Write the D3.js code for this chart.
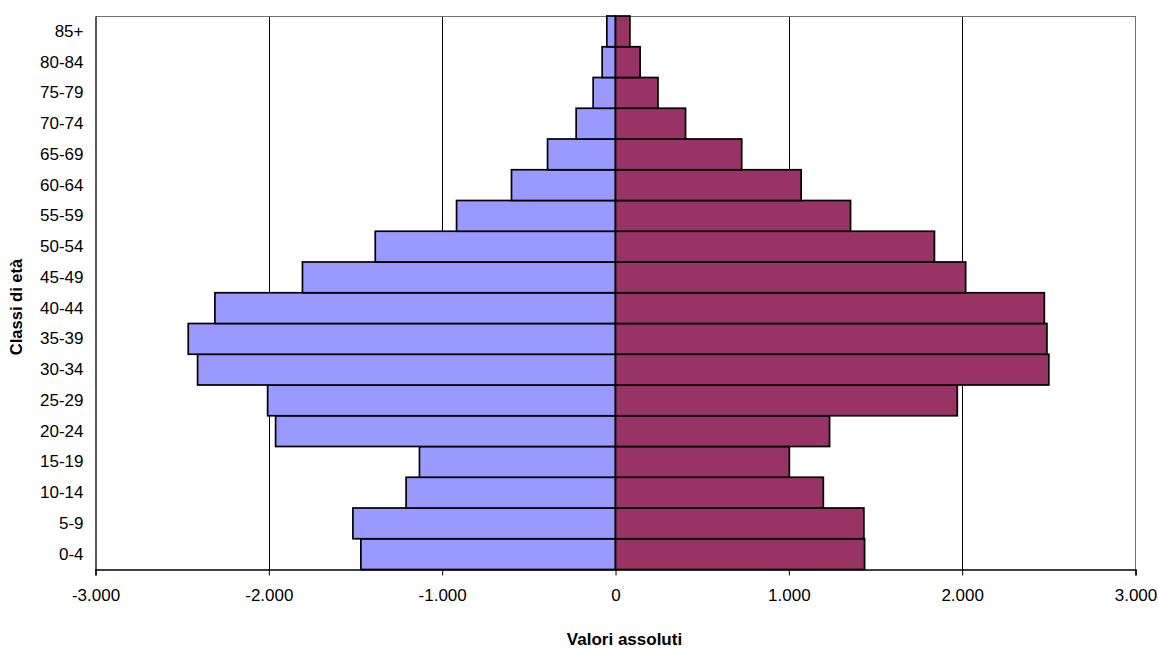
<!DOCTYPE html>
<html>
<head>
<meta charset="utf-8">
<script src="https://cdn.jsdelivr.net/npm/d3@7"></script>
<style>
  html, body { margin: 0; padding: 0; background: #fff; }
  svg { display: block; font-family: "Liberation Sans", Arial, sans-serif; }
</style>
</head>
<body>
<svg id="chart" width="1158" height="649"></svg>
<script>
// Age classes, bottom to top
const ageClasses = ["0-4", "5-9", "10-14", "15-19", "20-24", "25-29", "30-34", "35-39", "40-44",
                    "45-49", "50-54", "55-59", "60-64", "65-69", "70-74", "75-79", "80-84", "85+"];
// Left side of the pyramid (negative values)
const leftValues = [-1469, -1515, -1208, -1131, -1961, -2007, -2411, -2465, -2311,
                    -1806, -1386, -917, -600, -392, -227, -129, -77, -50];
// Right side of the pyramid
const rightValues = [1437, 1433, 1199, 1003, 1235, 1972, 2500, 2489, 2474,
                     2020, 1840, 1356, 1071, 728, 404, 245, 142, 83];
const xTicks = [-3000, -2000, -1000, 0, 1000, 2000, 3000];
const xTitle = "Valori assoluti";
const yTitle = "Classi di età";

const svg = d3.select("#chart");
const plot = { left: 95.5, right: 1135.5, top: 16, bottom: 569.5 };

const x = d3.scaleLinear().domain([-3000, 3000]).range([plot.left, plot.right]);
const y = d3.scaleBand().domain(ageClasses.slice().reverse()).range([plot.top, plot.bottom]).padding(0);

const it = d3.formatLocale({ decimal: ",", thousands: ".", grouping: [3], currency: ["€", ""], minus: "-" });
const fmt = it.format(",d");

// vertical gridlines
svg.append("g")
  .selectAll("line")
  .data(xTicks.filter(t => t !== -3000 && t !== 0 && t !== 3000))
  .join("line")
  .attr("x1", d => Math.round(x(d)) + 0.5).attr("x2", d => Math.round(x(d)) + 0.5)
  .attr("y1", plot.top).attr("y2", plot.bottom)
  .attr("stroke", "#000").attr("stroke-width", 1)
  .attr("shape-rendering", "crispEdges");

// plot area border (top and right)
svg.append("path")
  .attr("d", `M${plot.left},${plot.top + 0.5}H${plot.right - 0.5}V${plot.bottom}`)
  .attr("fill", "none").attr("stroke", "#707070").attr("stroke-width", 1)
  .attr("shape-rendering", "crispEdges");

const rows = ageClasses.map((c, i) => ({ c, l: leftValues[i], r: rightValues[i] }));

function bars(key, color) {
  svg.append("g")
    .selectAll("rect")
    .data(rows)
    .join("rect")
    .attr("x", d => x(Math.min(0, d[key])))
    .attr("width", d => Math.abs(x(d[key]) - x(0)))
    .attr("y", d => y(d.c))
    .attr("height", y.bandwidth())
    .attr("fill", color)
    .attr("stroke", "#000").attr("stroke-width", 1.7);
}
bars("l", "#9999FF");
bars("r", "#993366");

// x axis
const xAxis = svg.append("g")
  .attr("transform", `translate(0,${plot.bottom})`)
  .call(d3.axisBottom(x).tickValues(xTicks).tickFormat(fmt).tickSize(6).tickPadding(13));
xAxis.select(".domain").attr("stroke", "#000").attr("stroke-width", 1.5);
xAxis.selectAll(".tick line").attr("stroke", "#000");
xAxis.selectAll("text").attr("font-size", 17).attr("fill", "#000")
  .attr("font-family", "Liberation Sans, Arial, sans-serif");

// y axis
const yAxis = svg.append("g")
  .attr("transform", `translate(${plot.left},0)`)
  .call(d3.axisLeft(y).tickSize(0).tickPadding(12));
yAxis.select(".domain").attr("stroke", "#000").attr("stroke-width", 1.3);
yAxis.selectAll("text").attr("font-size", 17).attr("fill", "#000")
  .attr("font-family", "Liberation Sans, Arial, sans-serif");

// axis titles
svg.append("text")
  .attr("x", 624.5).attr("y", 645)
  .attr("text-anchor", "middle")
  .attr("font-size", 17).attr("font-weight", "bold")
  .text(xTitle);

svg.append("text")
  .attr("transform", "translate(22,307) rotate(-90)")
  .attr("text-anchor", "middle")
  .attr("font-size", 16.5).attr("font-weight", "bold")
  .text(yTitle);
</script>
</body>
</html>
